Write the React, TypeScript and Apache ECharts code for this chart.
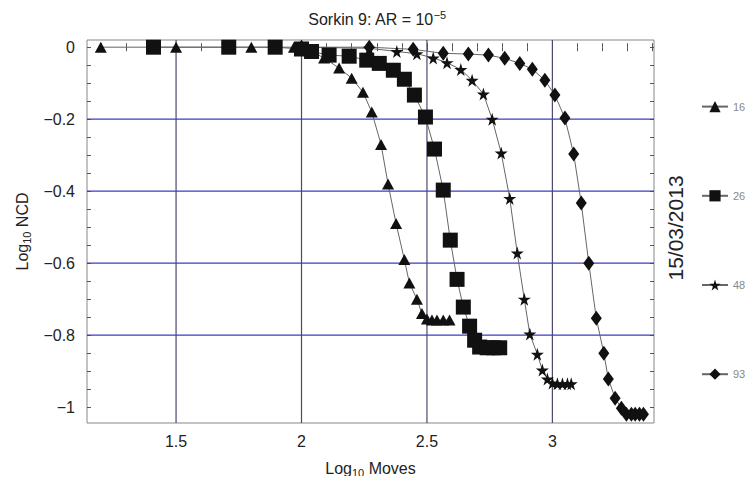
import React, { useEffect, useRef } from "react";
import * as echarts from "echarts";

// ---- data ----
const seriesNames = ["16", "26", "48", "93"];

const x16 = [1.2, 1.5, 1.8, 1.97, 2.03, 2.09, 2.15, 2.2, 2.245, 2.28, 2.317, 2.345, 2.377, 2.41, 2.43, 2.46, 2.48, 2.5, 2.52, 2.54, 2.565, 2.59];
const y16 = [0, 0, 0, 0, -0.008, -0.03, -0.058, -0.086, -0.125, -0.18, -0.27, -0.38, -0.49, -0.59, -0.655, -0.7, -0.74, -0.755, -0.758, -0.758, -0.758, -0.758];

const x26 = [1.41, 1.71, 1.895, 2.0, 2.04, 2.11, 2.19, 2.26, 2.31, 2.366, 2.41, 2.45, 2.494, 2.53, 2.565, 2.593, 2.62, 2.645, 2.67, 2.69, 2.71, 2.74, 2.765, 2.79];
const y26 = [0, 0, 0, -0.005, -0.012, -0.022, -0.025, -0.036, -0.045, -0.064, -0.089, -0.133, -0.194, -0.283, -0.397, -0.536, -0.645, -0.722, -0.775, -0.814, -0.833, -0.835, -0.835, -0.835];

const x48 = [2.0, 2.27, 2.38, 2.46, 2.525, 2.58, 2.635, 2.68, 2.725, 2.76, 2.796, 2.83, 2.86, 2.888, 2.91, 2.94, 2.96, 2.98, 3.0, 3.02, 3.04, 3.06, 3.075];
const y48 = [0, -0.003, -0.012, -0.018, -0.03, -0.043, -0.062, -0.092, -0.13, -0.2, -0.294, -0.42, -0.572, -0.7, -0.797, -0.853, -0.897, -0.922, -0.933, -0.935, -0.935, -0.935, -0.935];

const x93 = [2.0, 2.27, 2.445, 2.565, 2.665, 2.745, 2.81, 2.87, 2.92, 2.97, 3.01, 3.05, 3.085, 3.115, 3.145, 3.175, 3.205, 3.223, 3.25, 3.275, 3.295, 3.315, 3.33, 3.347, 3.363];
const y93 = [0, 0, -0.006, -0.017, -0.019, -0.022, -0.031, -0.045, -0.061, -0.092, -0.133, -0.197, -0.297, -0.433, -0.6, -0.753, -0.85, -0.922, -0.975, -1.003, -1.02, -1.02, -1.02, -1.02, -1.02];

const xMin = 1.145;
const xMax = 3.405;
const yMin = -1.044;
const yMax = 0.02;

const xTicks = [1.5, 2, 2.5, 3];
const xTickLabels = ["1.5", "2", "2.5", "3"];
const yTicks = [0, -0.2, -0.4, -0.6, -0.8, -1];
const yTickLabels = ["0", "\u22120.2", "\u22120.4", "\u22120.6", "\u22120.8", "\u22121"];
const yGridLines = [-0.2, -0.4, -0.6, -0.8];
const xMinorTicks = [1.2, 1.3, 1.4, 1.5, 1.6, 1.7, 1.8, 1.9, 2.0, 2.1, 2.2, 2.3, 2.4, 2.5, 2.6, 2.7, 2.8, 2.9, 3.0, 3.1, 3.2, 3.3, 3.4];
const yMinorTicks = [0, -0.05, -0.1, -0.15, -0.2, -0.25, -0.3, -0.35, -0.4, -0.45, -0.5, -0.55, -0.6, -0.65, -0.7, -0.75, -0.8, -0.85, -0.9, -0.95, -1.0];

const dateText = "15/03/2013";

const FONT = "'Liberation Sans Narrow', 'Arial Narrow', 'Liberation Sans', Arial, sans-serif";
const STAR = "path://M50,0 L61,35 L98,35 L68,57 L79,91 L50,70 L21,91 L32,57 L2,35 L39,35 Z";

const zip = (xs: number[], ys: number[]) => xs.map((x, i) => [x, ys[i]]);

const labelFor = (ticks: number[], labels: string[]) => (v: number) => {
  const i = ticks.findIndex((t) => Math.abs(t - v) < 1e-6);
  return i >= 0 ? labels[i] : "";
};

export default function App() {
  const ref = useRef<HTMLDivElement>(null);
  useEffect(() => {
    if (!ref.current) return;
    const chart = echarts.init(ref.current, undefined, { renderer: "svg" });
    const tickStyle = { color: "#555", width: 1 };
    const mk = (name: string, xs: number[], ys: number[], symbol: string, size: any) => ({
      name,
      type: "line",
      data: zip(xs, ys),
      symbol,
      symbolSize: size,
      showAllSymbol: true,
      z: 3,
      itemStyle: { color: "#111" },
      lineStyle: { color: "#666", width: 1 },
    });
    const gridLine = (id: string, pts: number[][], color: string) => ({
      id,
      name: id,
      type: "line",
      data: pts,
      symbol: "none",
      silent: true,
      z: 1,
      itemStyle: { color },
      lineStyle: { color, width: 1.2, opacity: 1 },
      emphasis: { disabled: true },
    });
    chart.setOption({
      animation: false,
      backgroundColor: "#fff",
      title: {
        text: "Sorkin 9: AR = 10{sup|\u22125}",
        left: 372,
        textAlign: "center",
        top: 4,
        textStyle: {
          fontFamily: FONT,
          fontSize: 16,
          fontWeight: "normal",
          color: "#222",
          lineHeight: 20,
          rich: {
            sup: { fontSize: 11, fontFamily: FONT, color: "#222", verticalAlign: "top", lineHeight: 10, padding: [0, 0, 4, 0] },
          },
        },
      },
      legend: {
        data: seriesNames,
        orient: "vertical",
        left: 696,
        top: 96,
        itemGap: 78,
        itemWidth: 26,
        itemHeight: 14,
        textStyle: { color: "#888", fontSize: 11, fontFamily: FONT },
      },
      grid: {
        left: 87,
        right: 99,
        top: 40,
        bottom: 61,
        show: true,
        borderColor: "#888",
        borderWidth: 1,
        backgroundColor: "transparent",
      },
      graphic: [
        {
          type: "text",
          x: 675,
          y: 228,
          rotation: Math.PI / 2,
          style: {
            text: dateText,
            fontSize: 21,
            fontFamily: "'Liberation Sans', Arial, sans-serif",
            fill: "#222",
            align: "center",
            verticalAlign: "middle",
          },
        },
      ],
      xAxis: [
        {
          type: "value",
          min: xMin,
          max: xMax,
          position: "bottom",
          axisLine: { show: false },
          axisTick: { show: true, inside: true, length: 4, customValues: xMinorTicks, lineStyle: tickStyle },
          splitLine: { show: false },
          axisLabel: {
            formatter: labelFor(xTicks, xTickLabels),
            fontSize: 16,
            color: "#222",
            fontFamily: FONT,
            margin: 10,
            showMinLabel: false,
            showMaxLabel: false,
          },
          name: "Log{sub|10} Moves",
          nameLocation: "middle",
          nameGap: 35,
          nameTextStyle: {
            fontSize: 16,
            color: "#222",
            fontFamily: FONT,
            lineHeight: 20,
            rich: { sub: { fontSize: 11, fontFamily: FONT, color: "#222", verticalAlign: "bottom", lineHeight: 12 } },
          },
        },
        {
          type: "value",
          min: xMin,
          max: xMax,
          position: "top",
          axisLine: { show: false },
          axisTick: { show: true, inside: true, length: 4, customValues: xMinorTicks, lineStyle: tickStyle },
          splitLine: { show: false },
          axisLabel: { show: false },
        },
      ],
      yAxis: [
        {
          type: "value",
          min: yMin,
          max: yMax,
          position: "left",
          axisLine: { show: false },
          axisTick: { show: true, inside: true, length: 4, customValues: yMinorTicks, lineStyle: tickStyle },
          splitLine: { show: false },
          axisLabel: {
            formatter: labelFor(yTicks, yTickLabels),
            fontSize: 16,
            color: "#222",
            fontFamily: FONT,
            margin: 12,
            showMinLabel: false,
            showMaxLabel: false,
          },
          name: "Log{sub|10} NCD",
          nameLocation: "middle",
          nameGap: 52,
          nameRotate: 90,
          nameTextStyle: {
            fontSize: 16,
            color: "#222",
            fontFamily: FONT,
            lineHeight: 20,
            rich: { sub: { fontSize: 11, fontFamily: FONT, color: "#222", verticalAlign: "bottom", lineHeight: 12 } },
          },
        },
        {
          type: "value",
          min: yMin,
          max: yMax,
          position: "right",
          axisLine: { show: false },
          axisTick: { show: true, inside: true, length: 4, customValues: yMinorTicks, lineStyle: tickStyle },
          splitLine: { show: false },
          axisLabel: { show: false },
        },
      ],
      series: [
        ...xTicks.map((v, i) => gridLine("gx" + i, [[v, yMin], [v, yMax]], "#4a4a6e")),
        ...yGridLines.map((v, i) => gridLine("gy" + i, [[xMin, v], [xMax, v]], "#3c3cc0")),
        mk("16", x16, y16, "triangle", [12, 11]),
        mk("26", x26, y26, "rect", 15),
        mk("48", x48, y48, STAR, 13),
        mk("93", x93, y93, "diamond", [11, 15]),
      ],
    });
    return () => chart.dispose();
  }, []);
  return <div ref={ref} style={{ width: 753, height: 484, margin: -8 }} />;
}
